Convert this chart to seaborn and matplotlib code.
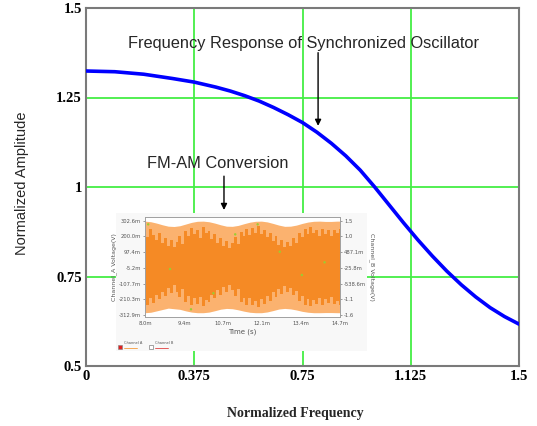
import numpy as np
import pandas as pd
import matplotlib
matplotlib.use('Agg')
import matplotlib.pyplot as plt
import seaborn as sns

# main curve: normalized frequency response
freq = [0.0, 0.1, 0.2, 0.3, 0.375, 0.45, 0.5, 0.55, 0.6, 0.65, 0.7, 0.75, 0.8, 0.85,
        0.9, 0.95, 1.0, 1.05, 1.1, 1.15, 1.2, 1.25, 1.3, 1.35, 1.4, 1.45, 1.5]
amp = [1.324, 1.322, 1.315, 1.303, 1.293, 1.279, 1.268, 1.255, 1.240, 1.222, 1.202, 1.180, 1.153, 1.122,
       1.087, 1.047, 1.000, 0.950, 0.900, 0.852, 0.807, 0.765, 0.727, 0.693, 0.663, 0.638, 0.617]

x_ticks = [0, 0.375, 0.75, 1.125, 1.5]
x_ticklabels = ['0', '0.375', '0.75', '1.125', '1.5']
y_ticks = [0.5, 0.75, 1, 1.25, 1.5]
y_ticklabels = ['0.5', '0.75', '1', '1.25', '1.5']

# inset scope trace (FM-AM conversion), envelopes in mV
t_env = [8.0, 8.2, 8.4, 8.6, 8.8, 9.0, 9.2, 9.4, 9.6, 9.8, 10.0, 10.2, 10.4, 10.6, 10.8, 11.0, 11.2, 11.4,
         11.6, 11.8, 12.0, 12.2, 12.4, 12.6, 12.8, 13.0, 13.2, 13.4, 13.6, 13.8, 14.0, 14.2, 14.4, 14.6, 14.7]
env_top = [300, 296, 287, 276, 267, 265, 270, 281, 292, 299, 300, 296, 287, 276, 267, 266, 272, 283,
           293, 299, 300, 295, 285, 274, 266, 267, 274, 285, 294, 299, 300, 298, 298, 300, 300]
env_bot = [-298, -295, -286, -277, -268, -272, -276, -286, -294, -298, -298, -294, -285, -275, -270, -272, -279, -288,
           -295, -298, -298, -293, -284, -274, -270, -273, -280, -289, -295, -298, -298, -297, -297, -298, -298]
t_band = [8.0, 8.1, 8.2, 8.3, 8.4, 8.5, 8.6, 8.7, 8.8, 8.9, 9.0, 9.1, 9.2, 9.3, 9.4, 9.5, 9.6, 9.7, 9.8, 9.9,
          10.0, 10.1, 10.2, 10.3, 10.4, 10.5, 10.6, 10.7, 10.8, 10.9, 11.0, 11.1, 11.2, 11.3, 11.4, 11.5, 11.6,
          11.7, 11.8, 11.9, 12.0, 12.1, 12.2, 12.3, 12.4, 12.5, 12.6, 12.7, 12.8, 12.9, 13.0, 13.1, 13.2, 13.3,
          13.4, 13.5, 13.6, 13.7, 13.8, 13.9, 14.0, 14.1, 14.2, 14.3, 14.4, 14.5, 14.6, 14.7]
dark_top = [240, 195, 250, 210, 180, 225, 160, 190, 140, 175, 130, 165, 200, 150, 235, 205, 255, 215, 245, 190,
            260, 220, 235, 185, 215, 160, 190, 135, 170, 125, 155, 195, 150, 230, 200, 250, 210, 255, 225, 265,
            215, 245, 195, 225, 170, 200, 145, 180, 130, 165, 140, 190, 160, 225, 195, 250, 215, 260, 220, 245,
            205, 250, 215, 240, 200, 245, 225, 250]
dark_bot = [-225, -250, -200, -235, -185, -210, -160, -190, -135, -170, -120, -160, -195, -145, -225, -190, -250,
            -205, -240, -195, -255, -215, -230, -180, -205, -150, -185, -130, -165, -120, -150, -190, -145, -225,
            -200, -245, -205, -250, -220, -260, -210, -240, -190, -220, -165, -195, -140, -175, -125, -160, -135,
            -185, -155, -220, -190, -245, -210, -255, -215, -240, -200, -245, -210, -235, -195, -240, -220, -245]
pts_t = [8.11, 8.86, 9.58, 10.35, 11.1, 11.87, 12.63, 13.39, 14.17]
pts_v = [279, -12.7, -275.7, -171, 213.8, 279, 100.3, -51.8, 31]
scope_xticks = [8.0, 9.34, 10.68, 12.02, 13.36, 14.7]
scope_xlabels = ['8.0m', '9.4m', '10.7m', '12.1m', '13.4m', '14.7m']
scope_yticks = [302.6, 200.0, 97.4, -5.2, -107.7, -210.3, -312.9]
scope_ylabels = ['302.6m', '200.0m', '97.4m', '-5.2m', '-107.7m', '-210.3m', '-312.9m']
scope_rlabels = ['1.5', '1.0', '487.1m', '-25.8m', '-538.6m', '-1.1', '-1.6']

sns.set_theme(style='white')
W, H = 537, 426
fig = plt.figure(figsize=(W / 100, H / 100), dpi=100)
fig.patch.set_facecolor('white')

ax = fig.add_axes([86 / W, 1 - 366 / H, (519 - 86) / W, (366 - 8) / H])
ax.set_facecolor('white')
df = pd.DataFrame({'freq': freq, 'amp': amp})
sns.lineplot(data=df, x='freq', y='amp', ax=ax, color='#0000ff', lw=2.6, zorder=3)
ax.set_xlim(0, 1.5)
ax.set_ylim(0.5, 1.5)
ax.set_xticks(x_ticks)
ax.set_xticklabels(x_ticklabels)
ax.set_yticks(y_ticks)
ax.set_yticklabels(y_ticklabels)
for lab in ax.get_xticklabels() + ax.get_yticklabels():
    lab.set_family('Liberation Serif')
    lab.set_fontweight('bold')
    lab.set_fontsize(10.5)
    lab.set_color('black')
ax.tick_params(axis='both', length=0, pad=3)
ax.grid(True, color='#44ee44', lw=1.3)
for s in ax.spines.values():
    s.set_color('#7a7a7a')
    s.set_linewidth(1.5)
ax.set_xlabel('')
ax.set_ylabel('')

fig.text(295 / W, 1 - 413 / H, 'Normalized Frequency', ha='center', va='center',
         family='Liberation Serif', fontweight='bold', fontsize=10)
fig.text(22 / W, 1 - 183 / H, 'Normalized Amplitude', ha='center', va='center', rotation=90,
         family='Liberation Sans', fontsize=10.5)

ax.text(0.755, 1.402, 'Frequency Response of Synchronized Oscillator', ha='center', va='center',
        family='Liberation Sans', fontsize=11.8, zorder=4)
ax.annotate('', xy=(0.804, 1.163), xytext=(0.804, 1.383),
            arrowprops=dict(arrowstyle='-|>', color='black', lw=1.0, mutation_scale=9), zorder=4)
ax.text(0.456, 1.067, 'FM-AM Conversion', ha='center', va='center',
        family='Liberation Sans', fontsize=11.8, zorder=4)
ax.annotate('', xy=(0.478, 0.928), xytext=(0.478, 1.038),
            arrowprops=dict(arrowstyle='-|>', color='black', lw=1.0, mutation_scale=9), zorder=4)

# inset background (screenshot area)
ax_bg = fig.add_axes([116 / W, 1 - 351 / H, (367 - 116) / W, (351 - 213) / H])
ax_bg.set_facecolor('#f8f8f8')
ax_bg.set_xticks([])
ax_bg.set_yticks([])
for s in ax_bg.spines.values():
    s.set_visible(False)
ax_bg.set_xlim(0, 1)
ax_bg.set_ylim(0, 1)
ax_bg.plot([0.016], [0.03], marker='s', ms=3.5, color='#e02020', mec='#808080', mew=0.4)
ax_bg.text(0.032, 0.06, 'Channel A', fontsize=2.6, color='#555555', va='center')
ax_bg.plot([0.032, 0.085], [0.025, 0.025], color='#f59a3a', lw=0.6)
ax_bg.plot([0.139], [0.03], marker='s', ms=3.5, color='white', mec='#808080', mew=0.5)
ax_bg.text(0.155, 0.06, 'Channel B', fontsize=2.6, color='#555555', va='center')
ax_bg.plot([0.155, 0.208], [0.025, 0.025], color='#e04040', lw=0.6)

# inset scope plot
axi = fig.add_axes([145 / W, 1 - 317 / H, (340 - 145) / W, (317 - 217) / H])
axi.set_facecolor('white')
axi.fill_between(t_env, env_bot, env_top, color='#fbb26f', lw=0)
axi.fill_between(t_band, dark_bot, dark_top, step='mid', color='#f58a25', lw=0)
sns.scatterplot(x=pts_t, y=pts_v, ax=axi, color='#9acd32', s=3, edgecolor='none', zorder=3)
axi.set_xlim(8.0, 14.7)
axi.set_ylim(-326, 327)
axi.set_xticks(scope_xticks)
axi.set_xticklabels(scope_xlabels)
axi.set_yticks(scope_yticks)
axi.set_yticklabels(scope_ylabels)
axi.tick_params(axis='both', labelsize=3.8, length=1.5, width=0.4, pad=1.5, colors='#555555')
axi.set_xlabel('Time (s)', fontsize=5, color='#555555', labelpad=2)
axi.set_ylabel('Channel_A Voltage(V)', fontsize=4.5, color='#555555', labelpad=1)
for s in axi.spines.values():
    s.set_color('#a0a0a0')
    s.set_linewidth(0.6)
axr = axi.twinx()
axr.set_ylim(axi.get_ylim())
axr.set_yticks(scope_yticks)
axr.set_yticklabels(scope_rlabels)
axr.tick_params(axis='y', labelsize=3.8, length=1.5, width=0.4, pad=1.5, colors='#555555')
axr.set_ylabel('Channel_B Voltage(V)', fontsize=4.5, color='#555555', rotation=270, labelpad=6)
for s in axr.spines.values():
    s.set_color('#a0a0a0')
    s.set_linewidth(0.6)
axr.grid(False)
axi.grid(False)

fig.savefig('out.png', dpi=100)
